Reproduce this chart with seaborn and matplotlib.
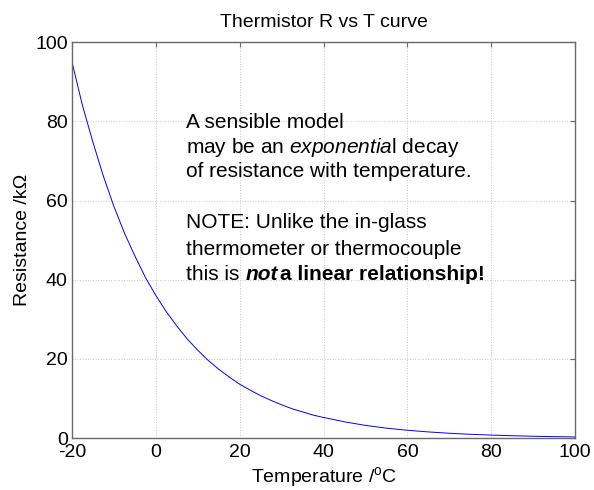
import numpy as np
import pandas as pd
import seaborn as sns
import matplotlib.pyplot as plt

# Thermistor resistance (kOhm)
temps = [-20, -17.5, -15, -12.5, -10, -7.5, -5, -2.5, 0, 2.5, 5, 7.5, 10,
         12.5, 15, 17.5, 20, 22.5, 25, 27.5, 30, 32.5, 35, 37.5, 40, 45, 50,
         55, 60, 65, 70, 75, 80, 85, 90, 95, 100]
resist = [95.0, 84.0, 74.7, 66.1, 58.5, 51.8, 46.0, 40.6, 36.0, 31.9, 28.3,
          25.0, 22.2, 19.6, 17.4, 15.4, 13.6, 12.1, 10.7, 9.5, 8.4, 7.4, 6.6,
          5.8, 5.2, 4.1, 3.2, 2.5, 1.97, 1.55, 1.21, 0.95, 0.75, 0.59, 0.46,
          0.36, 0.28]
xticks = [-20, 0, 20, 40, 60, 80, 100]
yticks = [0, 20, 40, 60, 80, 100]

df = pd.DataFrame({'T': temps, 'R': resist})

sns.set_style('white')
plt.rcParams['font.family'] = ['Liberation Sans', 'DejaVu Sans']
plt.rcParams['axes.unicode_minus'] = False
plt.rcParams['text.color'] = 'black'
plt.rcParams['axes.labelcolor'] = 'black'
plt.rcParams['mathtext.fontset'] = 'custom'
plt.rcParams['mathtext.rm'] = 'Liberation Sans'
plt.rcParams['mathtext.it'] = 'Liberation Sans:italic'
plt.rcParams['mathtext.bf'] = 'Liberation Sans:bold'

fig = plt.figure(figsize=(5.94, 4.90), dpi=100)
ax = fig.add_axes([0.1212, 0.106, 0.847, 0.808])

sns.lineplot(data=df, x='T', y='R', color='#0000ff', linewidth=0.7, ax=ax)

ax.set_xlim(-20, 100)
ax.set_ylim(0, 100)
ax.set_xticks(xticks)
ax.set_yticks(yticks)
ax.grid(True, linestyle=':', color='#c8c8c8', linewidth=0.7)
for s in ax.spines.values():
    s.set_color('#6a6a6a')
    s.set_linewidth(1.0)
ax.tick_params(direction='in', length=3.6, width=0.8, color='#6a6a6a',
               top=True, right=True, labelsize=14, labelcolor='black')
ax.tick_params(axis='x', pad=4)
ax.tick_params(axis='y', pad=3)

ax.set_title('Thermistor R vs T curve', fontsize=14, pad=11)
ax.set_xlabel('Temperature /$^{\\mathrm{o}}$C', fontsize=14, labelpad=3)
ax.set_ylabel('Resistance /k\u03a9', fontsize=14, labelpad=3)

lines = [
    (78.3, 'A sensible model'),
    (72.0, 'may be an $\\mathit{exponentia}$l decay'),
    (65.9, 'of resistance with temperature.'),
    (53.0, 'NOTE: Unlike the in-glass'),
    (46.2, 'thermometer or thermocouple'),
    (39.9, 'this is '),
]
for y, txt in lines:
    ax.text(7.2, y, txt, fontsize=15, va='baseline', ha='left')

t = ax.text(7.2, 39.9, 'this is ', fontsize=15, va='baseline', ha='left', alpha=0)
fig.canvas.draw()
bb = t.get_window_extent()
x0 = ax.transData.inverted().transform((bb.x1, bb.y0))[0]
t2 = ax.text(x0, 39.9, 'not', fontsize=15, va='baseline', ha='left',
             fontweight='bold', fontstyle='italic')
fig.canvas.draw()
bb2 = t2.get_window_extent()
x1 = ax.transData.inverted().transform((bb2.x1 + 2, bb2.y0))[0]
ax.text(x1, 39.9, 'a linear relationship!', fontsize=15, va='baseline',
        ha='left', fontweight='bold')

fig.savefig('out.png', dpi=100)
